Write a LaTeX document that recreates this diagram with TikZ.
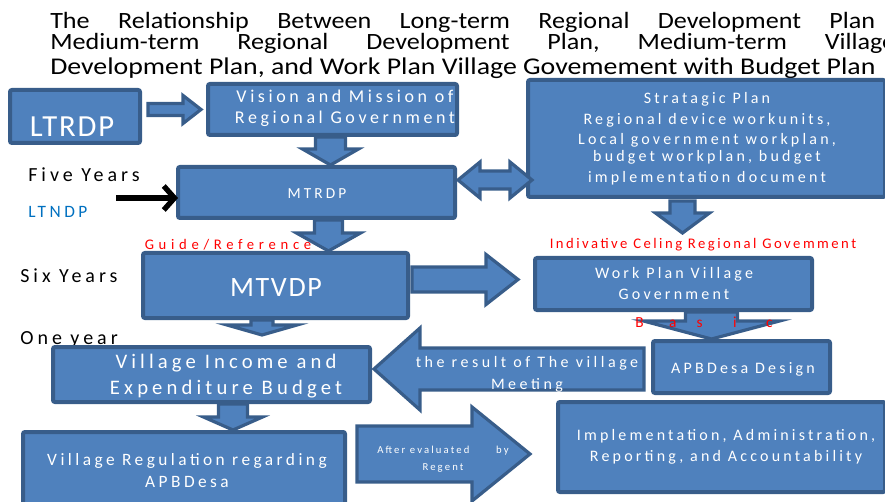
\documentclass[tikz,border=0pt]{standalone}
\usepackage{fontspec}
\setmainfont{Carlito}
\newfontfamily\boxfont[LetterSpace=20]{Carlito}
\newfontfamily\widefont[LetterSpace=32]{Carlito}
\newfontfamily\titlefont[FakeStretch=1.12]{Carlito}
\newfontfamily\titlewide[FakeStretch=1.16]{Carlito}
\usetikzlibrary{fit,calc,arrows.meta}
\definecolor{boxfill}{HTML}{4F81BD}
\definecolor{boxline}{HTML}{385D8A}
\definecolor{noteblue}{HTML}{0070C0}

\tikzset{
  panel/.style={draw=boxline, fill=boxfill, line width=3pt, rounded corners=1.5pt, inner sep=0pt},
  barrow/.style={draw=boxline, fill=boxfill, line width=2.4pt, line join=miter},
  titleline/.style={anchor=west, inner sep=0pt, text width=#1*0.75pt,
    font=\titlefont\fontsize{17.5}{19}\selectfont},
  sidelabel/.style={anchor=west, inner sep=0pt, font=\boxfont\fontsize{15}{17}\selectfont},
  redlabel/.style={inner sep=0pt, text=red, font=\boxfont\fontsize{11}{13}\selectfont},
  boxtext/.style={inner sep=0pt, text=white, align=center},
}

% block arrows: #1 start, #2 tip, #3 half shaft, #4 half head, #5 head length (all in px)
\newcommand{\blockdown}[5]{%
  \draw[barrow] let \p1=(#1), \p2=(#2) in
    ({\x2-#3*0.75pt},\y1) -- ({\x2+#3*0.75pt},\y1) -- ({\x2+#3*0.75pt},{\y2+#5*0.75pt})
    -- ({\x2+#4*0.75pt},{\y2+#5*0.75pt}) -- (\x2,\y2) -- ({\x2-#4*0.75pt},{\y2+#5*0.75pt})
    -- ({\x2-#3*0.75pt},{\y2+#5*0.75pt}) -- cycle;}
\newcommand{\blockright}[5]{%
  \draw[barrow] let \p1=(#1), \p2=(#2) in
    (\x1,{\y2+#3*0.75pt}) -- ({\x2-#5*0.75pt},{\y2+#3*0.75pt}) -- ({\x2-#5*0.75pt},{\y2+#4*0.75pt})
    -- (\x2,\y2) -- ({\x2-#5*0.75pt},{\y2-#4*0.75pt}) -- ({\x2-#5*0.75pt},{\y2-#3*0.75pt})
    -- (\x1,{\y2-#3*0.75pt}) -- cycle;}
\newcommand{\blockleft}[5]{%
  \draw[barrow] let \p1=(#1), \p2=(#2) in
    (\x1,{\y2+#3*0.75pt}) -- ({\x2+#5*0.75pt},{\y2+#3*0.75pt}) -- ({\x2+#5*0.75pt},{\y2+#4*0.75pt})
    -- (\x2,\y2) -- ({\x2+#5*0.75pt},{\y2-#4*0.75pt}) -- ({\x2+#5*0.75pt},{\y2-#3*0.75pt})
    -- (\x1,{\y2-#3*0.75pt}) -- cycle;}
\newcommand{\blockboth}[5]{%
  \draw[barrow] let \p1=(#1), \p2=(#2) in
    (\x1,\y1) -- ({\x1+#5*0.75pt},{\y1+#4*0.75pt}) -- ({\x1+#5*0.75pt},{\y1+#3*0.75pt})
    -- ({\x2-#5*0.75pt},{\y1+#3*0.75pt}) -- ({\x2-#5*0.75pt},{\y1+#4*0.75pt}) -- (\x2,\y1)
    -- ({\x2-#5*0.75pt},{\y1-#4*0.75pt}) -- ({\x2-#5*0.75pt},{\y1-#3*0.75pt})
    -- ({\x1+#5*0.75pt},{\y1-#3*0.75pt}) -- ({\x1+#5*0.75pt},{\y1-#4*0.75pt}) -- cycle;}

\begin{document}
\begin{tikzpicture}[x=0.75pt,y=-0.75pt]
\useasboundingbox (0,0) rectangle (885,502);

% heading
\node[titleline=825] (t1) at (50,22) {\noindent The\hfill Relationship\hfill Between\hfill Long-term\hfill Regional\hfill Development\hfill Plan};
\node[titleline=845] (t2) at (50,43.5) {\noindent Medium-term\hfill Regional\hfill Development\hfill Plan,\hfill Medium-term\hfill Village};
\node[anchor=west, inner sep=0pt, font=\titlewide\fontsize{18}{20}\selectfont] (t3) at (50,68)
  {Development Plan, and Work Plan Village Govemement with Budget Plan};

% side labels
\node[sidelabel] (five) at (28,175) {Five Years};
\node[sidelabel, text=noteblue, font=\boxfont\fontsize{13}{15}\selectfont] (ltndp) at (28,212) {LTNDP};
\node[sidelabel] (six) at (20,276) {Six Years};
\node[sidelabel] (one) at (20,340) {One year};

% boxes
\node[panel, fit={(10,90) (140,143)}] (ltrdp) {};
\node[panel, fit={(208,84) (457,135)}] (vis) {};
\node[panel, fit={(178,167) (455,218)}] (mtrdp) {};
\node[panel, fit={(528,80) (885,197)}] (strat) {};
\node[panel, fit={(143,253) (408,318)}] (mtvdp) {};
\node[panel, fit={(535,258) (812,310)}] (work) {};
\node[panel, fit={(653,341) (830,393)}] (apbd) {};
\node[panel, fit={(53,347) (370,402)}] (vib) {};
\node[panel, fit={(23,432) (345,508)}] (vreg) {};
\node[panel, fit={(558,402) (885,492)}] (impl) {};

% box captions
\node[boxtext, font={\fontspec[LetterSpace=6]{Carlito}\fontsize{23}{26}\selectfont}] (ltrdptext) at (72,127) {LTRDP};
\node[boxtext, font=\boxfont\fontsize{13.5}{16}\selectfont] (vistext) at (345,108.5)
  {Vision and Mission of\\Regional Government};
\node[boxtext, font=\boxfont\fontsize{11.5}{14}\selectfont] (mtrdptext) at (317,194) {MTRDP};
\node[boxtext, font=\boxfont\fontsize{12}{15.5}\selectfont] (strattext) at (707,138.5)
  {Stratagic Plan\\Regional device workunits,\\Local government workplan,\\[-3pt]budget workplan, budget\\implementation document};
\node[boxtext, font={\fontspec[LetterSpace=6]{Carlito}\fontsize{21}{24}\selectfont}] (mtvdptext) at (276,288) {MTVDP};
\node[boxtext, font=\boxfont\fontsize{12}{15.5}\selectfont] (worktext) at (674,283.5)
  {Work Plan Village\\Government};
\node[boxtext, font=\boxfont\fontsize{12}{14}\selectfont] (apbdtext) at (743,369) {APBDesa Design};
\node[boxtext, font=\boxfont\fontsize{15.5}{19.5}\selectfont] (vibtext) at (226,376)
  {Village Income and\\Expenditure Budget};
\node[boxtext, font=\boxfont\fontsize{13}{16}\selectfont] (vregtext) at (187,470.5)
  {Village Regulation regarding\\APBDesa};
\node[boxtext, font=\boxfont\fontsize{12}{15.5}\selectfont] (impltext) at (726,447)
  {Implementation, Administration,\\Reporting, and Accountability};

% block arrows between the boxes
\coordinate (a1s) at ($(ltrdp.east)+(6,-7)$);
\coordinate (a1t) at ($(vis.west)+(-5,0)$);
\blockright{a1s}{a1t}{6}{14}{18}

\coordinate (a2s) at ($(vis.south)+(-2,0)$);
\coordinate (a2t) at (a2s |- mtrdp.north);
\blockdown{a2s}{a2t}{15}{28}{16}

\coordinate (dl) at ($(mtrdp.east)+(1,-12.5)$);
\coordinate (dr) at ($(strat.west |- dl)+(6,0)$);
\blockboth{dl}{dr}{9}{18}{22}

\coordinate (a4s) at ($(strat.south)+(-24,2)$);
\coordinate (a4t) at ($(a4s)+(0,32)$);
\blockdown{a4s}{a4t}{12.5}{27}{20}

\coordinate (a5s) at ($(mtrdp.south)+(12,0)$);
\coordinate (a5t) at (a5s |- mtvdp.north);
\blockdown{a5s}{a5t}{14}{32}{18}

\coordinate (a6s) at ($(mtvdp.east)+(2,-6)$);
\coordinate (a6t) at ($(work.west |- a6s)+(-15,0)$);
\blockright{a6s}{a6t}{12.5}{25}{32}

\coordinate (a7s) at ($(work.south)+(38,0)$);
\coordinate (a7t) at (a7s |- apbd.north);
\blockdown{a7s}{a7t}{26}{68}{18}

\coordinate (a8s) at ($(mtvdp.south)+(-13.5,0)$);
\coordinate (a8t) at ($(a8s)+(0,15)$);
\blockdown{a8s}{a8t}{11}{35}{10}

\coordinate (meetend) at (644,369);
\coordinate (a9t) at ($(vib.east |- meetend)+(2,0)$);
\blockleft{meetend}{a9t}{21}{41}{46}
\node[boxtext, font={\fontspec[LetterSpace=22]{Carlito}\fontsize{12}{16.5}\selectfont}] (meet) at (527,374)
  {the result of The village\\Meeting};

\coordinate (a10s) at ($(vib.south)+(21.5,0)$);
\coordinate (a10t) at (a10s |- vreg.north);
\blockdown{a10s}{a10t}{14.5}{29.5}{13}

\coordinate (evalend) at (357,454);
\coordinate (a11t) at ($(impl.west |- evalend)+(-26,0)$);
\blockright{evalend}{a11t}{28}{47}{58}
\node[boxtext, font=\boxfont\fontsize{8}{13}\selectfont] (evaltext) at (443,459)
  {After evaluated\hspace{20pt}by\\Regent};

% red notes
\node[redlabel, font=\widefont\fontsize{11}{13}\selectfont] (guide) at (228,245) {Guide/Reference};
\node[redlabel, font={\fontspec[LetterSpace=17]{Carlito}\fontsize{11}{13}\selectfont}] (ceil) at (703,245) {Indivative Celing Regional Govemment};
\node[redlabel, font=\fontsize{11.5}{13}\selectfont] (basic) at (704,322)
  {B\hspace{19pt}a\hspace{15pt}s\hspace{23pt}i\hspace{22pt}c};

% time scale pointer
\coordinate (fivearrow) at (116,198);
\draw[line width=4pt, -{Straight Barb[length=8pt,width=18pt]}] (fivearrow) -- ($(mtrdp.west |- fivearrow)+(2,0)$);
\end{tikzpicture}
\end{document}
